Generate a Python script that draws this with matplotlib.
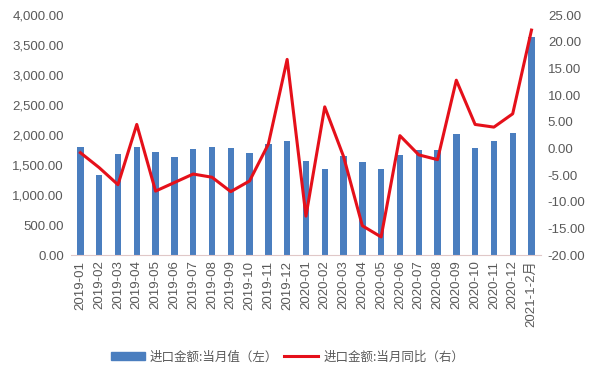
import numpy as np
import matplotlib.pyplot as plt
from matplotlib.lines import Line2D
from matplotlib.patches import Patch
from matplotlib.ticker import FuncFormatter

plt.rcParams['font.family'] = ['Liberation Sans', 'Noto Sans CJK SC', 'DejaVu Sans']

months = ['2019-01', '2019-02', '2019-03', '2019-04', '2019-05', '2019-06',
          '2019-07', '2019-08', '2019-09', '2019-10', '2019-11', '2019-12',
          '2020-01', '2020-02', '2020-03', '2020-04', '2020-05', '2020-06',
          '2020-07', '2020-08', '2020-09', '2020-10', '2020-11', '2020-12',
          '2021-1-2月']

# 进口金额:当月值 (left axis)
import_value = [1800, 1330, 1680, 1810, 1720, 1630, 1770, 1800, 1780, 1710,
                1850, 1910, 1570, 1430, 1650, 1550, 1440, 1670, 1750, 1760,
                2020, 1790, 1910, 2030, 3640]

# 进口金额:当月同比 (right axis)
import_yoy = [-0.8, -3.6, -6.8, 4.5, -8.0, -6.4, -4.8, -5.4, -8.1, -6.1,
              0.8, 16.7, -12.7, 7.8, -1.5, -14.5, -16.6, 2.4, -1.2, -2.1,
              12.8, 4.5, 4.0, 6.5, 22.2]

bar_color = '#4a7ebf'
line_color = '#e5101a'
text_color = '#595959'

x = np.arange(len(months))

fig = plt.figure(figsize=(5.99, 3.79), dpi=100)
ax = fig.add_axes([0.1185, 0.327, 0.7845, 0.633])
ax2 = ax.twinx()

ax.bar(x, import_value, width=0.34, color=bar_color, zorder=2)
ax2.plot(x, import_yoy, color=line_color, lw=2.2, zorder=3)

ax.set_xlim(-0.5, len(months) - 0.5)
ax.set_ylim(0, 4000)
ax.set_yticks(np.arange(0, 4001, 500))
ax.yaxis.set_major_formatter(FuncFormatter(lambda v, p: f'{v:,.2f}'))
ax2.set_ylim(-20, 25)
ax2.set_yticks(np.arange(-20, 26, 5))
ax2.yaxis.set_major_formatter(FuncFormatter(lambda v, p: f'{v:.2f}'))

ax.set_xticks(x)
ax.set_xticklabels(months, rotation=90)

for a in (ax, ax2):
    for s in a.spines.values():
        s.set_visible(False)
    a.tick_params(length=0, colors=text_color, labelsize=9.5)
ax.spines['bottom'].set_visible(True)
ax.spines['bottom'].set_color('#e0c8c8')
ax.tick_params(axis='y', pad=5)
ax2.tick_params(axis='y', pad=5)
ax.tick_params(axis='x', pad=4)

handles = [Patch(color=bar_color), Line2D([0], [0], color=line_color, lw=2.2)]
labels = ['进口金额:当月值（左）', '进口金额:当月同比（右）']
fig.legend(handles, labels, loc='center', bbox_to_anchor=(0.48, 0.058), ncol=2,
           frameon=False, labelcolor=text_color,
           prop={'family': ['Noto Sans CJK SC', 'DejaVu Sans'], 'size': 9},
           handlelength=2.7, handleheight=0.6, columnspacing=0.5, handletextpad=0.4)

fig.savefig('out.png', dpi=100)
